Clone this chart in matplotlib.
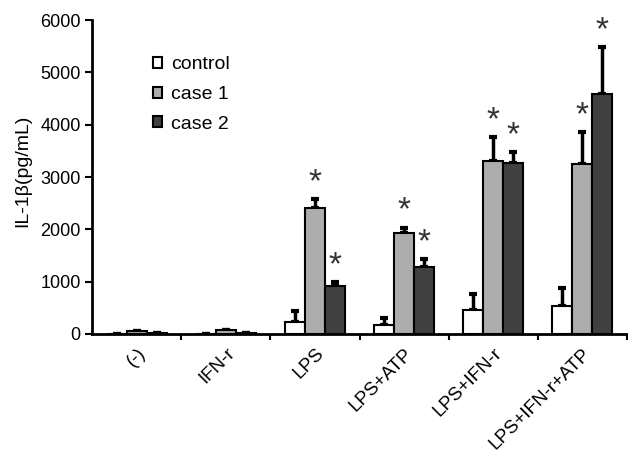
import matplotlib.pyplot as plt
import numpy as np

groups = ["(-)", "IFN-r", "LPS", "LPS+ATP", "LPS+IFN-r", "LPS+IFN-r+ATP"]
control = [5, 5, 230, 170, 460, 540]
control_err = [0, 0, 200, 130, 300, 340]
case1 = [60, 70, 2410, 1930, 3310, 3250]
case1_err = [0, 0, 170, 100, 450, 610]
case2 = [10, 20, 920, 1280, 3270, 4590]
case2_err = [0, 0, 70, 150, 210, 900]
case1_star = [False, False, True, True, True, True]
case2_star = [False, False, True, True, True, True]

plt.rcParams['font.family'] = ['Liberation Sans', 'DejaVu Sans']


def draw_chart():
    fig = plt.figure(figsize=(6.28, 4.58), dpi=100)
    ax = fig.add_axes([0.147, 0.271, 0.851, 0.685])
    x = np.arange(len(groups))
    w = 0.225

    series = [
        (control, control_err, "white", "control", None),
        (case1, case1_err, "#adadad", "case 1", case1_star),
        (case2, case2_err, "#404040", "case 2", case2_star),
    ]
    for i, (vals, errs, color, name, stars) in enumerate(series):
        pos = x + (i - 1) * w
        ax.bar(pos, vals, w, color=color, edgecolor="black", linewidth=1.5,
               label=name, zorder=2)
        lower = np.zeros(len(errs))
        ax.errorbar(pos, vals, yerr=[lower, errs], fmt="none", ecolor="black",
                    elinewidth=2.5, capsize=3, capthick=3, zorder=1)
        if stars is not None:
            for p, v, e, s in zip(pos, vals, errs, stars):
                if s:
                    ax.text(p, v + e + 20, "*", ha="center", va="bottom",
                            fontsize=24, color="#333333")

    ax.set_xlim(-0.5, len(groups) - 0.5)
    ax.set_ylim(0, 6000)
    ax.set_yticks(np.arange(0, 6001, 1000))
    ax.set_xticks(x)
    ax.set_xticklabels(groups, rotation=45, ha="right", rotation_mode="anchor")
    ax.set_xticks(x + 0.5, minor=True)
    ax.tick_params(axis="x", which="major", length=0, labelsize=13.5, pad=8)
    ax.tick_params(axis="x", which="minor", length=4, width=1.5)
    ax.tick_params(axis="y", length=5, width=1.5, labelsize=13)
    ax.set_ylabel("IL-1β(pg/mL)", fontsize=14)
    ax.yaxis.set_label_coords(-0.115, 0.52)

    for side in ["top", "right"]:
        ax.spines[side].set_visible(False)
    for side in ["left", "bottom"]:
        ax.spines[side].set_linewidth(2)

    ax.legend(loc="upper left", bbox_to_anchor=(0.08, 0.94), frameon=False,
              fontsize=14, handlelength=0.5, handleheight=0.5,
              handletextpad=0.45, labelspacing=0.65)

    fig.savefig("out.png", dpi=100)


def main():
    draw_chart()


if __name__ == "__main__":
    main()
